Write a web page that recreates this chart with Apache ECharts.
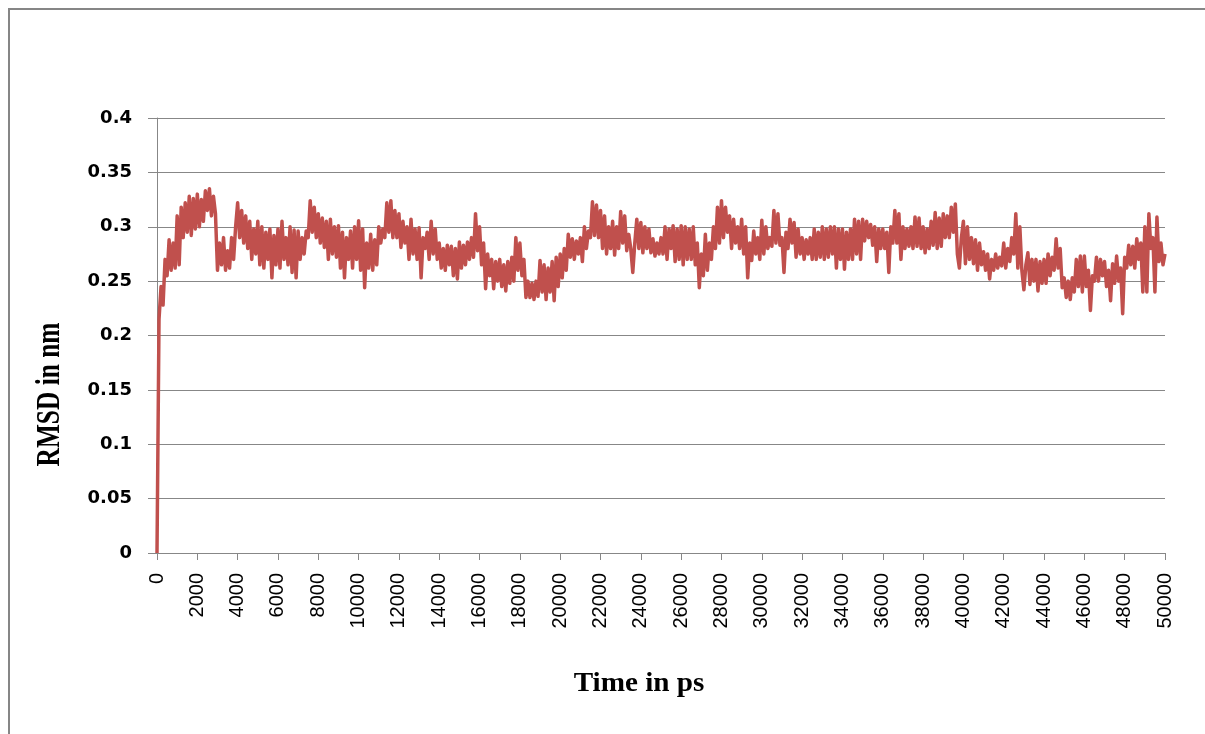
<!DOCTYPE html>
<html>
<head>
<meta charset="utf-8">
<script src="https://cdn.jsdelivr.net/npm/echarts@6/dist/echarts.min.js"></script>
<style>
html,body{margin:0;padding:0;background:#fff;}
#chart{width:1205px;height:734px;}
</style>
</head>
<body>
<div id="chart"></div>
<script>
const timeStep = 100;
const rmsd = [
0, 0.215, 0.245, 0.228, 0.27, 0.255, 0.288, 0.26, 0.285, 0.262,
0.31, 0.265, 0.318, 0.29, 0.322, 0.295, 0.328, 0.292, 0.326, 0.298,
0.33, 0.3, 0.325, 0.305, 0.333, 0.315, 0.335, 0.31, 0.328, 0.312,
0.26, 0.285, 0.265, 0.29, 0.26, 0.278, 0.262, 0.29, 0.27, 0.3,
0.322, 0.29, 0.315, 0.285, 0.31, 0.28, 0.305, 0.27, 0.298, 0.275,
0.305, 0.265, 0.3, 0.262, 0.295, 0.27, 0.298, 0.253, 0.292, 0.265,
0.298, 0.262, 0.305, 0.27, 0.29, 0.265, 0.3, 0.258, 0.297, 0.253,
0.296, 0.27, 0.29, 0.275, 0.296, 0.29, 0.324, 0.295, 0.318, 0.29,
0.312, 0.285, 0.308, 0.281, 0.305, 0.27, 0.307, 0.275, 0.3, 0.272,
0.301, 0.262, 0.295, 0.253, 0.29, 0.27, 0.296, 0.262, 0.3, 0.27,
0.3055, 0.26, 0.298, 0.244, 0.285, 0.262, 0.293, 0.26, 0.288, 0.265,
0.3, 0.285, 0.298, 0.29, 0.322, 0.295, 0.324, 0.29, 0.315, 0.29,
0.312, 0.281, 0.305, 0.285, 0.3, 0.27, 0.307, 0.275, 0.298, 0.27,
0.299, 0.253, 0.29, 0.28, 0.295, 0.27, 0.305, 0.275, 0.298, 0.27,
0.285, 0.262, 0.28, 0.26, 0.283, 0.265, 0.282, 0.255, 0.28, 0.252,
0.286, 0.262, 0.283, 0.265, 0.286, 0.27, 0.29, 0.272, 0.312, 0.278,
0.3, 0.265, 0.285, 0.243, 0.275, 0.255, 0.27, 0.243, 0.268, 0.25,
0.27, 0.245, 0.265, 0.241, 0.268, 0.248, 0.272, 0.25, 0.29, 0.26,
0.285, 0.255, 0.27, 0.235, 0.25, 0.235, 0.248, 0.233, 0.25, 0.236,
0.269, 0.24, 0.265, 0.233, 0.262, 0.24, 0.268, 0.232, 0.272, 0.245,
0.275, 0.253, 0.28, 0.26, 0.293, 0.272, 0.289, 0.27, 0.287, 0.275,
0.29, 0.268, 0.3, 0.28, 0.296, 0.29, 0.323, 0.292, 0.32, 0.29,
0.315, 0.28, 0.31, 0.275, 0.3, 0.28, 0.305, 0.274, 0.3, 0.28,
0.314, 0.285, 0.31, 0.278, 0.293, 0.28, 0.258, 0.285, 0.307, 0.28,
0.304, 0.276, 0.3, 0.28, 0.298, 0.276, 0.289, 0.273, 0.285, 0.275,
0.29, 0.275, 0.3, 0.27, 0.298, 0.28, 0.301, 0.268, 0.298, 0.27,
0.301, 0.265, 0.3, 0.27, 0.298, 0.27, 0.3, 0.265, 0.285, 0.244,
0.275, 0.255, 0.293, 0.26, 0.285, 0.27, 0.3, 0.28, 0.318, 0.285,
0.324, 0.29, 0.318, 0.295, 0.31, 0.28, 0.307, 0.285, 0.3, 0.28,
0.307, 0.275, 0.3, 0.253, 0.285, 0.269, 0.296, 0.275, 0.29, 0.27,
0.306, 0.275, 0.3, 0.28, 0.29, 0.282, 0.315, 0.285, 0.312, 0.283,
0.29, 0.258, 0.295, 0.28, 0.307, 0.285, 0.304, 0.272, 0.298, 0.275,
0.29, 0.27, 0.288, 0.275, 0.29, 0.27, 0.298, 0.27, 0.295, 0.272,
0.3, 0.27, 0.298, 0.272, 0.3, 0.275, 0.3, 0.262, 0.298, 0.27,
0.298, 0.261, 0.295, 0.27, 0.298, 0.27, 0.307, 0.275, 0.305, 0.27,
0.307, 0.287, 0.305, 0.29, 0.302, 0.283, 0.3, 0.268, 0.298, 0.28,
0.298, 0.28, 0.295, 0.258, 0.3, 0.285, 0.315, 0.285, 0.312, 0.27,
0.3, 0.28, 0.298, 0.282, 0.3, 0.28, 0.309, 0.282, 0.308, 0.28,
0.3, 0.276, 0.298, 0.28, 0.305, 0.283, 0.313, 0.28, 0.308, 0.282,
0.312, 0.29, 0.31, 0.29, 0.318, 0.295, 0.321, 0.275, 0.262, 0.29,
0.305, 0.266, 0.3, 0.27, 0.29, 0.266, 0.288, 0.26, 0.285, 0.265,
0.277, 0.26, 0.275, 0.252, 0.27, 0.26, 0.275, 0.262, 0.272, 0.264,
0.285, 0.262, 0.28, 0.268, 0.29, 0.275, 0.312, 0.262, 0.3, 0.26,
0.242, 0.265, 0.276, 0.247, 0.27, 0.25, 0.27, 0.241, 0.268, 0.248,
0.27, 0.248, 0.275, 0.255, 0.272, 0.26, 0.289, 0.262, 0.28, 0.244,
0.253, 0.235, 0.25, 0.233, 0.253, 0.24, 0.27, 0.245, 0.273, 0.24,
0.273, 0.245, 0.26, 0.223, 0.255, 0.25, 0.272, 0.25, 0.27, 0.255,
0.268, 0.245, 0.26, 0.232, 0.266, 0.248, 0.273, 0.25, 0.262, 0.22,
0.272, 0.262, 0.283, 0.265, 0.282, 0.262, 0.289, 0.27, 0.285, 0.24,
0.3, 0.24, 0.312, 0.28, 0.29, 0.24, 0.309, 0.268, 0.285, 0.265,
0.275
];
const xTitle = 'Time in ps';
const yTitle = 'RMSD in nm';

const seriesData = rmsd.map((v, i) => [i * timeStep, v]);

const chart = echarts.init(document.getElementById('chart'), null, {renderer: 'canvas'});
const gridColor = '#878787';
chart.setOption({
  animation: false,
  backgroundColor: '#ffffff',
  grid: {left: 157, right: 40, top: 118, bottom: 181, containLabel: false},
  xAxis: {
    type: 'value', min: 0, max: 50000, interval: 2000,
    axisLine: {show: true, lineStyle: {color: gridColor, width: 1}},
    axisTick: {show: true, length: 7, lineStyle: {color: gridColor}},
    splitLine: {show: false},
    axisLabel: {rotate: 90, margin: 20, color: '#000', fontFamily: 'Liberation Sans', fontSize: 20,
      formatter: v => String(v)}
  },
  yAxis: {
    type: 'value', min: 0, max: 0.4, interval: 0.05,
    axisLine: {show: true, lineStyle: {color: gridColor, width: 1}},
    axisTick: {show: true, length: 9, lineStyle: {color: gridColor}},
    splitLine: {show: true, lineStyle: {color: gridColor, width: 1}},
    axisLabel: {margin: 25, color: '#000', fontFamily: 'DejaVu Sans', fontWeight: 'bold', fontSize: 18}
  },
  series: [{
    type: 'line', data: seriesData, showSymbol: false, symbol: 'none',
    lineStyle: {color: '#C0504D', width: 3.5, join: 'round'}, sampling: null, z: 3
  }],
  graphic: [
    {type: 'rect', silent: true, shape: {x: 9, y: 9, width: 1400, height: 1000},
     style: {fill: 'none', stroke: '#868686', lineWidth: 2}},
    {type: 'text', x: 50, y: 394.5, rotation: Math.PI / 2, scaleX: 0.94, scaleY: 1.28,
     style: {text: yTitle, font: 'bold 27px "Liberation Serif"', textAlign: 'center', textVerticalAlign: 'middle', fill: '#000'}},
    {type: 'text', x: 639, y: 684, scaleX: 1.08,
     style: {text: xTitle, font: 'bold 27px "Liberation Serif"', textAlign: 'center', textVerticalAlign: 'middle', fill: '#000'}}
  ]
});
</script>
</body>
</html>
